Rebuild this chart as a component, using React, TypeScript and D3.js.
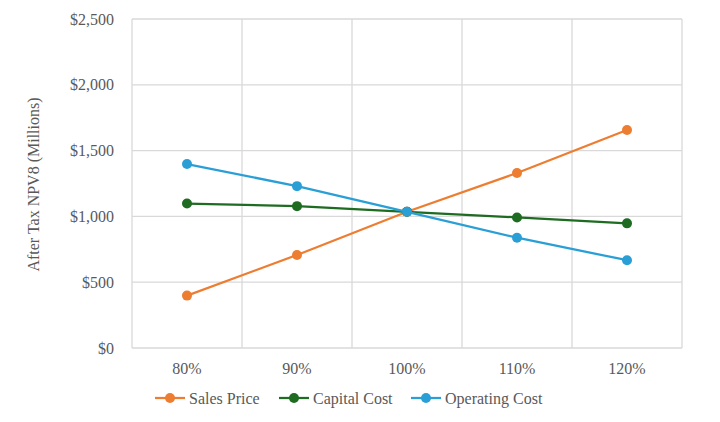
import React, { useEffect, useRef } from 'react';
import * as d3 from 'd3';

const categories = ['80%', '90%', '100%', '110%', '120%'];
const salesPrice = [398, 707, 1035, 1330, 1656];
const capitalCost = [1098, 1078, 1035, 992, 947];
const operatingCost = [1398, 1230, 1035, 838, 667];
const yTicks = [0, 500, 1000, 1500, 2000, 2500];

const seriesNames = ['Sales Price', 'Capital Cost', 'Operating Cost'];
const seriesColors = ['#ED7D31', '#1E6B22', '#2A9FD6'];

export default function App() {
  const ref = useRef<SVGSVGElement | null>(null);

  useEffect(() => {
    const width = 720;
    const height = 422;
    const margin = { top: 19, right: 38, bottom: 74, left: 132 };
    const svg = d3.select(ref.current);
    svg.selectAll('*').remove();

    const font = '"Liberation Serif", "Times New Roman", serif';
    const textColor = '#595959';

    const x = d3.scaleBand<string>()
      .domain(categories)
      .range([margin.left, width - margin.right]);
    const y = d3.scaleLinear()
      .domain([0, 2500])
      .range([height - margin.bottom, margin.top]);

    svg.append('rect').attr('width', width).attr('height', height).attr('fill', '#fff');

    // horizontal gridlines
    svg.append('g')
      .selectAll('line')
      .data(yTicks)
      .enter()
      .append('line')
      .attr('x1', margin.left)
      .attr('x2', width - margin.right)
      .attr('y1', d => y(d))
      .attr('y2', d => y(d))
      .attr('stroke', '#d9d9d9')
      .attr('stroke-width', 1.3);

    // vertical gridlines at band edges
    const edges = categories.map(c => x(c) as number).concat([width - margin.right]);
    svg.append('g')
      .selectAll('line')
      .data(edges)
      .enter()
      .append('line')
      .attr('x1', d => d)
      .attr('x2', d => d)
      .attr('y1', margin.top)
      .attr('y2', height - margin.bottom)
      .attr('stroke', '#d9d9d9')
      .attr('stroke-width', 1.3);

    // y tick labels
    svg.append('g')
      .selectAll('text')
      .data(yTicks)
      .enter()
      .append('text')
      .attr('x', margin.left - 18)
      .attr('y', d => y(d))
      .attr('dy', '0.35em')
      .attr('text-anchor', 'end')
      .attr('font-family', font)
      .attr('font-size', 16)
      .attr('fill', textColor)
      .text(d => d3.format('$,')(d));

    // x tick labels
    svg.append('g')
      .selectAll('text')
      .data(categories)
      .enter()
      .append('text')
      .attr('x', d => (x(d) as number) + x.bandwidth() / 2)
      .attr('y', height - margin.bottom + 26)
      .attr('text-anchor', 'middle')
      .attr('font-family', font)
      .attr('font-size', 16)
      .attr('fill', textColor)
      .text(d => d);

    // y axis title
    svg.append('text')
      .attr('transform', `translate(39, ${(margin.top + height - margin.bottom) / 2 + 1}) rotate(-90)`)
      .attr('text-anchor', 'middle')
      .attr('font-family', font)
      .attr('font-size', 16)
      .attr('fill', textColor)
      .text('After Tax NPV8 (Millions)');

    const allSeries = [salesPrice, capitalCost, operatingCost];
    const line = d3.line<number>()
      .x((_, i) => (x(categories[i]) as number) + x.bandwidth() / 2)
      .y(d => y(d));

    allSeries.forEach((vals, si) => {
      const g = svg.append('g');
      g.append('path')
        .datum(vals)
        .attr('d', line)
        .attr('fill', 'none')
        .attr('stroke', seriesColors[si])
        .attr('stroke-width', 2.25);
      g.selectAll('circle')
        .data(vals)
        .enter()
        .append('circle')
        .attr('cx', (_, i) => (x(categories[i]) as number) + x.bandwidth() / 2)
        .attr('cy', d => y(d))
        .attr('r', 5)
        .attr('fill', seriesColors[si]);
    });

    // legend
    const legendX = [155, 279, 411];
    const legendY = 398;
    const legend = svg.append('g');
    seriesNames.forEach((name, i) => {
      const lx = legendX[i];
      legend.append('line')
        .attr('x1', lx)
        .attr('x2', lx + 30)
        .attr('y1', legendY)
        .attr('y2', legendY)
        .attr('stroke', seriesColors[i])
        .attr('stroke-width', 2.25);
      legend.append('circle')
        .attr('cx', lx + 15)
        .attr('cy', legendY)
        .attr('r', 5)
        .attr('fill', seriesColors[i]);
      legend.append('text')
        .attr('x', lx + 34)
        .attr('y', legendY)
        .attr('dy', '0.35em')
        .attr('font-family', font)
        .attr('font-size', 16)
        .attr('fill', textColor)
        .text(name);
    });
  }, []);

  return (
    <svg
      ref={ref}
      width={720}
      height={422}
      style={{ position: 'absolute', left: 0, top: 0, display: 'block' }}
    />
  );
}
